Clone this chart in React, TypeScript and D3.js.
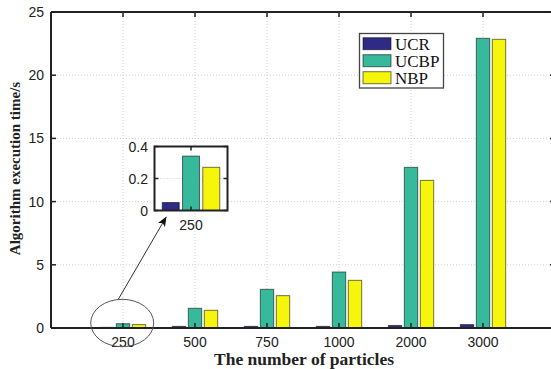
import React from "react";
import * as d3 from "d3";

const categories = ["250", "500", "750", "1000", "2000", "3000"];
const seriesNames = ["UCR", "UCBP", "NBP"];
const ucr = [0.05, 0.13, 0.13, 0.13, 0.2, 0.27];
const ucbp = [0.34, 1.56, 3.06, 4.43, 12.71, 22.92];
const nbp = [0.27, 1.4, 2.56, 3.77, 11.68, 22.84];
const yTicks = [0, 5, 10, 15, 20, 25];
const insetTicks = [0, 0.2, 0.4];

const colors = ["#2f2a86", "#37b99c", "#f6f60c"];
const series = [ucr, ucbp, nbp];

const W = 551;
const H = 369;
const M = { left: 51, top: 12, right: 555, bottom: 328 };

const barStep = 0.222;
const barW = 0.186;

export default function App() {
  const x = d3.scaleLinear().domain([0, 7]).range([M.left, M.right]);
  const y = d3.scaleLinear().domain([0, 25]).range([M.bottom, M.top]);

  // zoomed inset around the first group
  const inset = { left: 154.5, right: 227.5, top: 146.5, bottom: 210.5 };
  const ix = d3.scaleLinear().domain([0.6, 1.4]).range([inset.left, inset.right]);
  const iy = d3.scaleLinear().domain([0, 0.4]).range([inset.bottom, inset.top]);

  const sans = "'Liberation Sans', Arial, sans-serif";
  const serif = "'Liberation Serif', 'Times New Roman', serif";
  const tick = 5;

  return (
    <svg width={W} height={H} style={{ position: "absolute", left: 0, top: 0, background: "#fff" }}>
      <defs>
        <clipPath id="plotclip">
          <rect x={M.left} y={M.top} width={M.right - M.left} height={M.bottom - M.top} />
        </clipPath>
        <marker id="arrowhead" viewBox="0 0 10 10" refX="9" refY="5" markerWidth="10" markerHeight="10" markerUnits="userSpaceOnUse" orient="auto">
          <path d="M0,1 L10,5 L0,9 L2.5,5 Z" fill="#111" />
        </marker>
      </defs>
      <rect width={W} height={H} fill="#fff" />

      {/* grid */}
      <g stroke="#cfcfcf" strokeWidth={1} strokeDasharray="1,2">
        {yTicks.slice(1, -1).map((t) => (
          <line key={"gy" + t} x1={M.left} x2={M.right} y1={y(t)} y2={y(t)} />
        ))}
        {categories.map((c, i) => (
          <line key={"gx" + c} x1={x(i + 1)} x2={x(i + 1)} y1={M.top} y2={M.bottom} />
        ))}
      </g>

      {/* bars */}
      <g clipPath="url(#plotclip)">
        {series.map((vals, s) =>
          vals.map((v, i) => {
            const cx = i + 1 + (s - 1) * barStep;
            return (
              <rect
                key={s + "-" + i}
                x={x(cx - barW / 2)}
                y={y(v)}
                width={x(barW) - x(0)}
                height={y(0) - y(v)}
                fill={colors[s]}
                stroke="#000"
                strokeOpacity={0.55}
                strokeWidth={1}
              />
            );
          })
        )}
      </g>

      {/* axes box */}
      <g stroke="#222" strokeWidth={2} fill="none">
        <line x1={M.left} x2={M.right} y1={M.top} y2={M.top} />
        <line x1={M.left} x2={M.right} y1={M.bottom} y2={M.bottom} />
        <line x1={M.left} x2={M.left} y1={M.top} y2={M.bottom} />
        <line x1={M.right} x2={M.right} y1={M.top} y2={M.bottom} />
      </g>
      <g stroke="#222" strokeWidth={1.5}>
        {categories.map((c, i) => (
          <g key={"t" + c}>
            <line x1={x(i + 1)} x2={x(i + 1)} y1={M.bottom} y2={M.bottom - tick} />
            <line x1={x(i + 1)} x2={x(i + 1)} y1={M.top} y2={M.top + tick} />
          </g>
        ))}
        {yTicks.map((t) => (
          <g key={"yt" + t}>
            <line x1={M.left} x2={M.left + tick} y1={y(t)} y2={y(t)} />
            <line x1={M.right} x2={M.right - tick} y1={y(t)} y2={y(t)} />
          </g>
        ))}
      </g>

      {/* tick labels */}
      <g fontFamily={sans} fontSize={14} fill="#222">
        {yTicks.map((t) => (
          <text key={"yl" + t} x={44} y={y(t) + 5} textAnchor="end">
            {t}
          </text>
        ))}
        {categories.map((c, i) => (
          <text key={"xl" + c} x={x(i + 1)} y={346.5} textAnchor="middle">
            {c}
          </text>
        ))}
      </g>

      {/* axis titles */}
      <text x={304} y={365} textAnchor="middle" fontFamily={serif} fontWeight="bold" fontSize={17.5} fill="#222">
        The number of particles
      </text>
      <text
        transform={`translate(20,168.5) rotate(-90)`}
        textAnchor="middle"
        fontFamily={serif}
        fontWeight="bold"
        fontSize={15}
        fill="#222"
      >
        Algorithm execution time/s
      </text>

      {/* legend */}
      <g>
        <rect x={359.5} y={33.5} width={84} height={54.5} fill="#fff" stroke="#444" strokeWidth={1.3} />
        {seriesNames.map((n, s) => {
          const cy = 43.7 + s * 17;
          return (
            <g key={n}>
              <rect x={363} y={cy - 6} width={28} height={12} fill={colors[s]} stroke="#000" strokeOpacity={0.55} />
              <text x={395} y={cy + 5.8} fontFamily={serif} fontSize={17} fill="#111">
                {n}
              </text>
            </g>
          );
        })}
      </g>

      {/* ellipse and arrow pointing at the inset */}
      <ellipse cx={122.2} cy={323} rx={31.5} ry={23.7} fill="none" stroke="#555" strokeWidth={1} />
      <line x1={118.3} y1={299.3} x2={166} y2={217.3} stroke="#333" strokeWidth={1} markerEnd="url(#arrowhead)" />

      {/* inset */}
      <g>
        <rect x={inset.left} y={inset.top} width={inset.right - inset.left} height={inset.bottom - inset.top} fill="#fff" />
        <g stroke="#cfcfcf" strokeWidth={1} strokeDasharray="1,2">
          <line x1={inset.left} x2={inset.right} y1={iy(0.2)} y2={iy(0.2)} />
          <line x1={ix(1)} x2={ix(1)} y1={inset.top} y2={inset.bottom} />
        </g>
        {series.map((vals, s) => {
          const cx = 1 + (s - 1) * barStep;
          const v = vals[0];
          return (
            <rect
              key={"in" + s}
              x={ix(cx - barW / 2)}
              y={iy(v)}
              width={ix(barW) - ix(0)}
              height={iy(0) - iy(v)}
              fill={colors[s]}
              stroke="#000"
              strokeOpacity={0.55}
              strokeWidth={1}
            />
          );
        })}
        <rect
          x={inset.left}
          y={inset.top}
          width={inset.right - inset.left}
          height={inset.bottom - inset.top}
          fill="none"
          stroke="#222"
          strokeWidth={2}
        />
        <g stroke="#222" strokeWidth={1.5}>
          <line x1={ix(1)} x2={ix(1)} y1={inset.top} y2={inset.top + 4} />
          <line x1={ix(1)} x2={ix(1)} y1={inset.bottom} y2={inset.bottom - 4} />
          {insetTicks.map((t) => (
            <g key={"it" + t}>
              <line x1={inset.left} x2={inset.left + 4} y1={iy(t)} y2={iy(t)} />
              <line x1={inset.right} x2={inset.right - 4} y1={iy(t)} y2={iy(t)} />
            </g>
          ))}
        </g>
        <g fontFamily={sans} fontSize={14} fill="#222">
          {insetTicks.map((t) => (
            <text key={"il" + t} x={148} y={iy(t) + 5} textAnchor="end">
              {t}
            </text>
          ))}
          <text x={ix(1)} y={230} textAnchor="middle">
            {categories[0]}
          </text>
        </g>
      </g>
    </svg>
  );
}
